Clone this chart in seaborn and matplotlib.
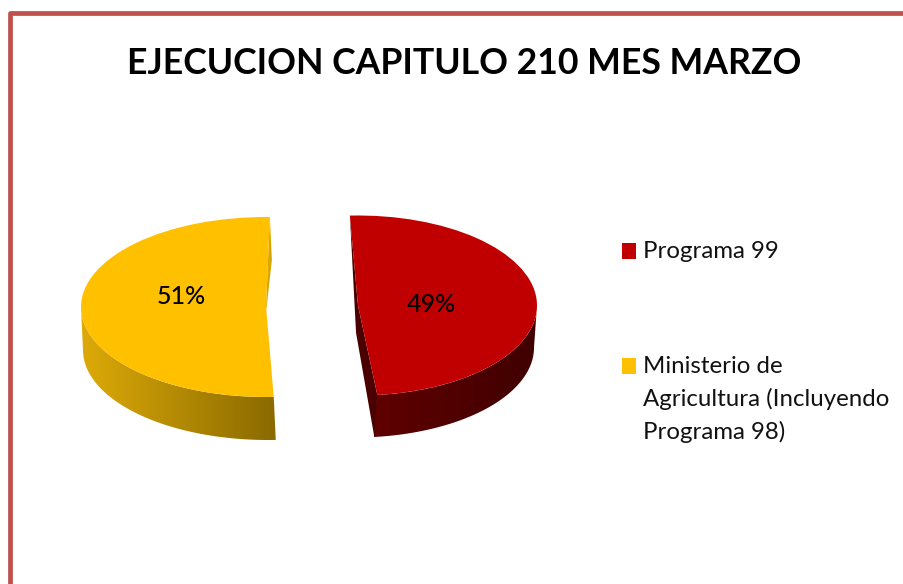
import numpy as np
import matplotlib
matplotlib.use('Agg')
import matplotlib.pyplot as plt
import seaborn as sns
from matplotlib.lines import Line2D
from matplotlib.patches import Polygon, Rectangle

# Data
slice_names = ['Programa 99', 'Ministerio de\nAgricultura (Incluyendo\nPrograma 98)']
slice_values = [49, 51]
slice_colors = ['#C00000', '#FFC000']
title_text = 'EJECUCION CAPITULO 210 MES MARZO'

W, H = 904, 584

sns.set_theme(style='white')
plt.rcParams['font.family'] = ['Lato', 'DejaVu Sans']

fig = plt.figure(figsize=(W / 100, H / 100), dpi=100)
fig.patch.set_facecolor('white')


def pie_axes(cx, cy, rx, ry, dx, dy):
    # axes box in pixels, one unit = the radius of the ellipse
    d = dy / ry
    ax = fig.add_axes([(cx - rx) / W, 1 - (cy + ry + dy) / H, 2 * rx / W, (2 * ry + dy) / H])
    ax.set_facecolor('none')
    ax.axis('off')
    return ax, dx / rx, d


def rim(t1, t2):
    t = np.radians(np.linspace(t1, t2, 200))
    return np.column_stack([np.cos(t), np.sin(t)])


def draw_slice(idx, startangle, box, wall_from, wall_to, wall_colors, cut_color, center_depth):
    ax, sx, sy = pie_axes(*box)
    shift = np.array([sx, -sy])

    # Angles of this slice's two straight edges come from the values
    span = np.array(slice_values) / sum(slice_values) * 360
    a1 = startangle - span[:idx].sum()
    a2 = a1 - span[idx]
    p1 = np.array([np.cos(np.radians(a1)), np.sin(np.radians(a1))])
    p2 = np.array([np.cos(np.radians(a2)), np.sin(np.radians(a2))])

    # Outer wall with a horizontal gradient across its own width
    arc = rim(wall_from, wall_to)
    wall_pts = np.vstack([arc, arc[::-1] + shift])
    wall = Polygon(wall_pts, closed=True, transform=ax.transData, fc='none', ec='none')
    ax.add_patch(wall)
    cmap = sns.blend_palette(wall_colors, as_cmap=True)
    img = ax.imshow(np.linspace(0, 1, 256).reshape(1, -1), cmap=cmap, aspect='auto',
                    extent=[wall_pts[:, 0].min(), wall_pts[:, 0].max(), -1.6, 1.05], zorder=1)
    img.set_clip_path(wall)

    # Cut face seen beside the top
    cut = Polygon([p1, (0, 0), p2, p2 + shift, shift * center_depth], closed=True,
                  fc=cut_color, ec='none', zorder=1.5)
    ax.add_patch(cut)

    # Top surface
    wedges, _ = ax.pie(slice_values, colors=slice_colors, startangle=startangle, counterclock=False,
                       radius=1, frame=False, wedgeprops={'linewidth': 0, 'zorder': 2})
    for i, w in enumerate(wedges):
        w.set_visible(i == idx)

    ax.set_aspect('auto')
    ax.set_xlim(-1, 1)
    ax.set_ylim(-1 - sy, 1)
    ax.axis('off')
    return ax


# Red slice, box = centre x, centre y, radius x, radius y, wall shift x, wall shift y
draw_slice(0, 92.6, (358, 305.5, 179, 90, -3, 42), 0, -84, ['#5F0000', '#400000'],
           '#4A0000', 0.65)
# Yellow slice
draw_slice(1, 88.8, (266, 307, 185, 90, 2, 43), 180, 272.4, ['#DDAA08', '#8A6A00'],
           '#D9A600', 0.1)

# Overlay in pixel coordinates for the texts and keys
top = fig.add_axes([0, 0, 1, 1])
top.set_xlim(0, W)
top.set_ylim(H, 0)
top.axis('off')
top.patch.set_alpha(0)

top.text(464, 64, title_text, ha='center', va='center', fontsize=25.7, fontweight='bold',
         color='black')
top.text(181, 297, f'{slice_values[1]}%', ha='center', va='center', fontsize=18, fontweight='medium',
         color='black')
top.text(431, 304, f'{slice_values[0]}%', ha='center', va='center', fontsize=18, fontweight='medium',
         color='black')

key_y = [243, 358]
for name, color, y in zip(slice_names, slice_colors, key_y):
    top.add_patch(Rectangle((622, y), 14, 16, fc=color, ec='none'))
    top.text(643, y - 2, name, ha='left', va='top', fontsize=17.3, color='#111111', linespacing=1.6)

# Red frame, open at the right and the bottom
frame = Line2D([10.4, 10.4, W + 5], [H + 5, 13.4, 13.4], transform=top.transData, color='#C0504D',
               lw=3.4, solid_joinstyle='round', clip_on=False)
top.add_line(frame)

fig.savefig('out.png', dpi=100)
plt.close(fig)
